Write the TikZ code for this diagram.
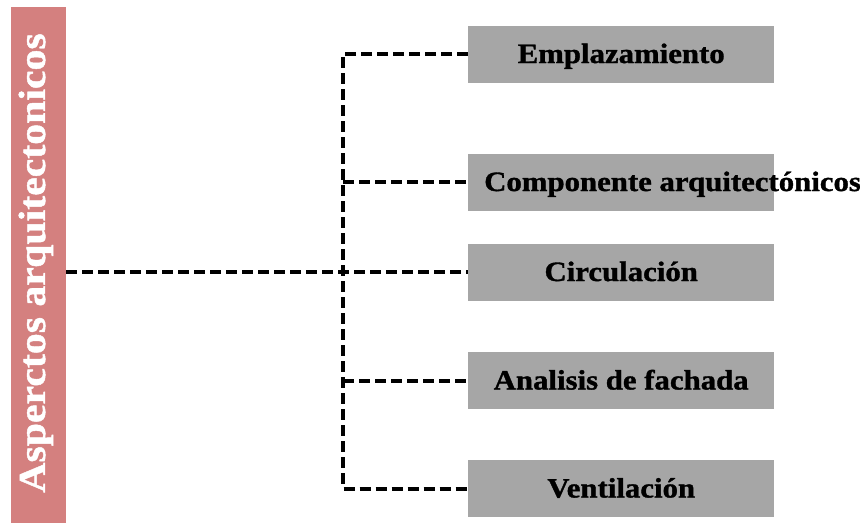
\documentclass[tikz,border=0pt]{standalone}
\usepackage{fontspec}
\setmainfont{Liberation Serif}
\newfontfamily\headfont[FakeStretch=1.1,FakeBold=1.2]{Liberation Serif}
\definecolor{barpink}{HTML}{D4807F}
\definecolor{boxgray}{HTML}{A6A6A6}
\begin{document}
\begin{tikzpicture}[x=1pt,y=-1pt,
  itembox/.style={fill=boxgray, draw=none, inner sep=0pt,
    minimum width=306pt, minimum height=57pt, anchor=west},
  itemtext/.style={inner sep=0pt, anchor=base, font=\headfont\bfseries\fontsize{28}{30}\selectfont, text=black},
  link/.style={line width=4pt, dash pattern=on 11pt off 5pt, black}]
\useasboundingbox (0,0) rectangle (860,523);

% title bar on the left
\node[fill=barpink, inner sep=0pt, minimum width=55pt, minimum height=516pt, anchor=north west] (bar) at (11,7) {};
\node[rotate=90, anchor=base, inner sep=0pt, text=white,
  font=\headfont\bfseries\fontsize{38}{40}\selectfont] (title) at (45,263) {Asperctos arquitectonicos};

% item boxes
\node[itembox] (b1) at (468,54) {};
\node[itembox] (b2) at (468,182) {};
\node[itembox] (b3) at (468,272) {};
\node[itembox] (b4) at (468,380.5) {};
\node[itembox] (b5) at (468,488.5) {};

\node[itemtext] (t1) at ([yshift=-9pt]b1.center) {Emplazamiento};
\node[itemtext, anchor=base west] (t2) at ([xshift=16pt,yshift=-9pt]b2.west) {Componente arquitectónicos};
\node[itemtext] (t3) at ([yshift=-9pt]b3.center) {Circulación};
\node[itemtext] (t4) at ([yshift=-9pt]b4.center) {Analisis de fachada};
\node[itemtext] (t5) at ([yshift=-9pt]b5.center) {Ventilación};

% dashed connectors
\coordinate (sp) at (343,0);
\draw[link] (b1.west) -- (b1.west -| sp) -- (b5.west -| sp) -- (b5.west);
\draw[link] (b2.west -| sp) -- (b2.west);
\draw[link] (b4.west -| sp) -- (b4.west);
\draw[link] (bar.east |- b3.west) -- (b3.west);
\end{tikzpicture}
\end{document}
